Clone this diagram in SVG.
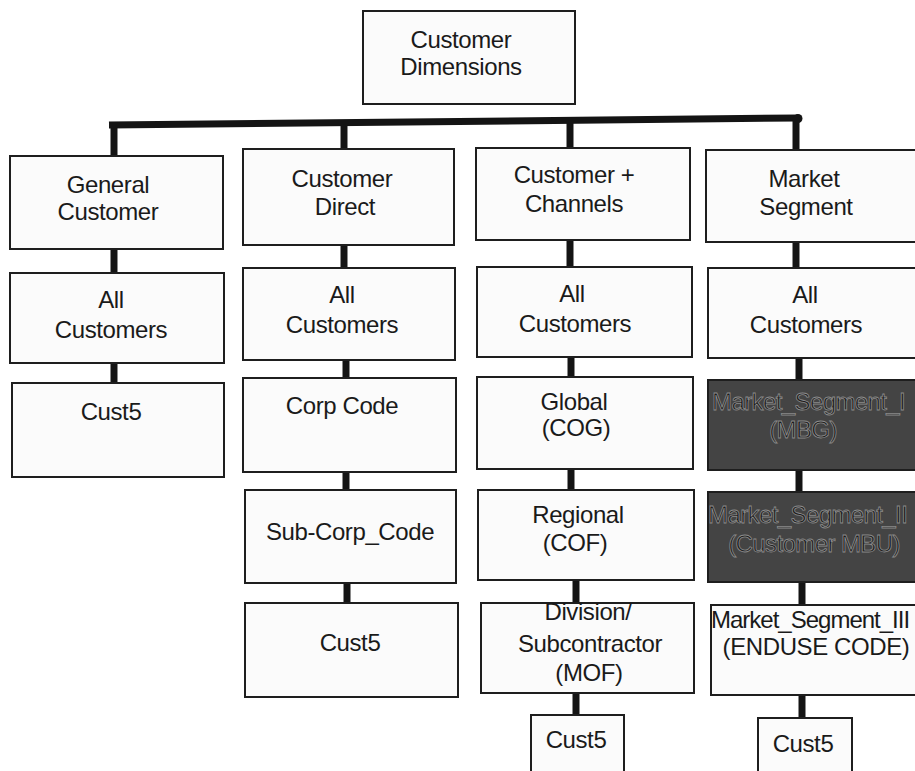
<svg xmlns="http://www.w3.org/2000/svg" width="915" height="771" viewBox="0 0 915 771">
  <style>
    .box { fill: #fbfbfb; stroke: #1e1e1e; stroke-width: 2; }
    .dark { fill: #444444; stroke: #1e1e1e; stroke-width: 2; }
    .lbl { font-family: "Liberation Sans", Arial, sans-serif; font-size: 24px; letter-spacing: -0.4px; fill: #1a1a1a; text-anchor: middle; }
    .lbl-start { font-family: "Liberation Sans", Arial, sans-serif; font-size: 24px; letter-spacing: -1px; fill: #1a1a1a; text-anchor: start; }
    .dlbl { font-family: "Liberation Sans", Arial, sans-serif; font-size: 24px; letter-spacing: -0.6px; fill: #1c1c1c; stroke: #8c8c8c; stroke-width: 0.8; }
    .mid { text-anchor: middle; }
    .link { stroke: #141414; stroke-width: 7; fill: none; }
  </style>
  <rect width="915" height="771" fill="#ffffff"/>

  <!-- connectors -->
  <g id="connectors">
    <line class="link" x1="109" y1="125" x2="798" y2="118"/>
    <circle cx="798" cy="118.5" r="4.5" fill="#141414"/>
    <!-- General Customer column -->
    <line class="link" x1="114" y1="124" x2="114" y2="156"/>
    <line class="link" x1="114" y1="249" x2="114" y2="273"/>
    <line class="link" x1="114" y1="363" x2="114" y2="383"/>
    <!-- Customer Direct column -->
    <line class="link" x1="344" y1="122" x2="344" y2="149"/>
    <line class="link" x1="344" y1="245" x2="344" y2="268"/>
    <line class="link" x1="346" y1="360" x2="346" y2="378"/>
    <line class="link" x1="346" y1="472" x2="346" y2="490"/>
    <line class="link" x1="347" y1="583" x2="347" y2="603"/>
    <!-- Customer + Channels column -->
    <line class="link" x1="570" y1="120" x2="570" y2="148"/>
    <line class="link" x1="570" y1="240" x2="570" y2="267"/>
    <line class="link" x1="571" y1="357" x2="571" y2="377"/>
    <line class="link" x1="571" y1="469" x2="571" y2="490"/>
    <line class="link" x1="576" y1="580" x2="576" y2="603"/>
    <line class="link" x1="576" y1="693" x2="576" y2="715"/>
    <!-- Market Segment column -->
    <line class="link" x1="796" y1="118" x2="796" y2="150"/>
    <line class="link" x1="796" y1="242" x2="796" y2="268"/>
    <line class="link" x1="799" y1="358" x2="799" y2="380"/>
    <line class="link" x1="799" y1="470" x2="799" y2="492"/>
    <line class="link" x1="802" y1="582" x2="802" y2="605"/>
    <line class="link" x1="802" y1="695" x2="802" y2="718"/>
  </g>

  <g id="root">
    <rect class="box" x="363" y="11" width="212" height="93"/>
    <text class="lbl" x="461" y="48">Customer</text>
    <text class="lbl" x="461" y="75">Dimensions</text>
  </g>

  <!-- column 1 -->
  <g id="general-customer">
    <rect class="box" x="10" y="156" width="213" height="93"/>
    <text class="lbl" x="108" y="193">General</text>
    <text class="lbl" x="108" y="220">Customer</text>
  </g>
  <g id="gc-all">
    <rect class="box" x="10" y="273" width="214" height="90"/>
    <text class="lbl" x="111" y="308">All</text>
    <text class="lbl" x="111" y="338">Customers</text>
  </g>
  <g id="gc-cust5">
    <rect class="box" x="12" y="383" width="212" height="94"/>
    <text class="lbl" x="111" y="420">Cust5</text>
  </g>

  <!-- column 2 -->
  <g id="customer-direct">
    <rect class="box" x="243" y="149" width="211" height="96"/>
    <text class="lbl" x="342" y="187">Customer</text>
    <text class="lbl" x="345" y="215">Direct</text>
  </g>
  <g id="cd-all">
    <rect class="box" x="243" y="268" width="212" height="92"/>
    <text class="lbl" x="342" y="303">All</text>
    <text class="lbl" x="342" y="333">Customers</text>
  </g>
  <g id="cd-corp">
    <rect class="box" x="243" y="378" width="213" height="94"/>
    <text class="lbl" x="342" y="414">Corp Code</text>
  </g>
  <g id="cd-subcorp">
    <rect class="box" x="245" y="490" width="211" height="93"/>
    <text class="lbl" x="350" y="540">Sub-Corp_Code</text>
  </g>
  <g id="cd-cust5">
    <rect class="box" x="245" y="603" width="213" height="94"/>
    <text class="lbl" x="350" y="651">Cust5</text>
  </g>

  <!-- column 3 -->
  <g id="customer-channels">
    <rect class="box" x="476" y="148" width="214" height="92"/>
    <text class="lbl" x="574" y="183">Customer +</text>
    <text class="lbl" x="574" y="212">Channels</text>
  </g>
  <g id="cc-all">
    <rect class="box" x="477" y="267" width="215" height="90"/>
    <text class="lbl" x="572" y="302">All</text>
    <text class="lbl" x="575" y="332">Customers</text>
  </g>
  <g id="cc-global">
    <rect class="box" x="477" y="377" width="216" height="92"/>
    <text class="lbl" x="574" y="410">Global</text>
    <text class="lbl" x="576" y="436">(COG)</text>
  </g>
  <g id="cc-regional">
    <rect class="box" x="478" y="490" width="216" height="90"/>
    <text class="lbl" x="578" y="523">Regional</text>
    <text class="lbl" x="575" y="551">(COF)</text>
  </g>
  <g id="cc-division">
    <rect class="box" x="481" y="603" width="213" height="90"/>
    <text class="lbl" x="588" y="620">Division/</text>
    <text class="lbl" x="590" y="652">Subcontractor</text>
    <text class="lbl" x="589" y="681">(MOF)</text>
  </g>
  <g id="cc-cust5">
    <rect class="box" x="531" y="715" width="93" height="70"/>
    <text class="lbl" x="576" y="748">Cust5</text>
  </g>

  <!-- column 4 -->
  <g id="market-segment">
    <rect class="box" x="706" y="150" width="214" height="92"/>
    <text class="lbl" x="804" y="187">Market</text>
    <text class="lbl" x="806" y="215">Segment</text>
  </g>
  <g id="ms-all">
    <rect class="box" x="708" y="268" width="212" height="90"/>
    <text class="lbl" x="805" y="303">All</text>
    <text class="lbl" x="806" y="333">Customers</text>
  </g>
  <g id="ms-level1">
    <rect class="dark" x="708" y="380" width="212" height="90"/>
    <text class="dlbl" x="712" y="410">Market_Segment_I</text>
    <text class="dlbl mid" x="803" y="438">(MBG)</text>
  </g>
  <g id="ms-level2">
    <rect class="dark" x="708" y="492" width="212" height="90"/>
    <text class="dlbl" x="708" y="523">Market_Segment_II</text>
    <text class="dlbl mid" x="814" y="552">(Customer MBU)</text>
  </g>
  <g id="ms-level3">
    <rect class="box" x="711" y="605" width="209" height="90"/>
    <text class="lbl-start" x="711" y="628">Market_Segment_III</text>
    <text class="lbl" x="816" y="655">(ENDUSE CODE)</text>
  </g>
  <g id="ms-cust5">
    <rect class="box" x="758" y="718" width="94" height="70"/>
    <text class="lbl" x="803" y="752">Cust5</text>
  </g>
</svg>
